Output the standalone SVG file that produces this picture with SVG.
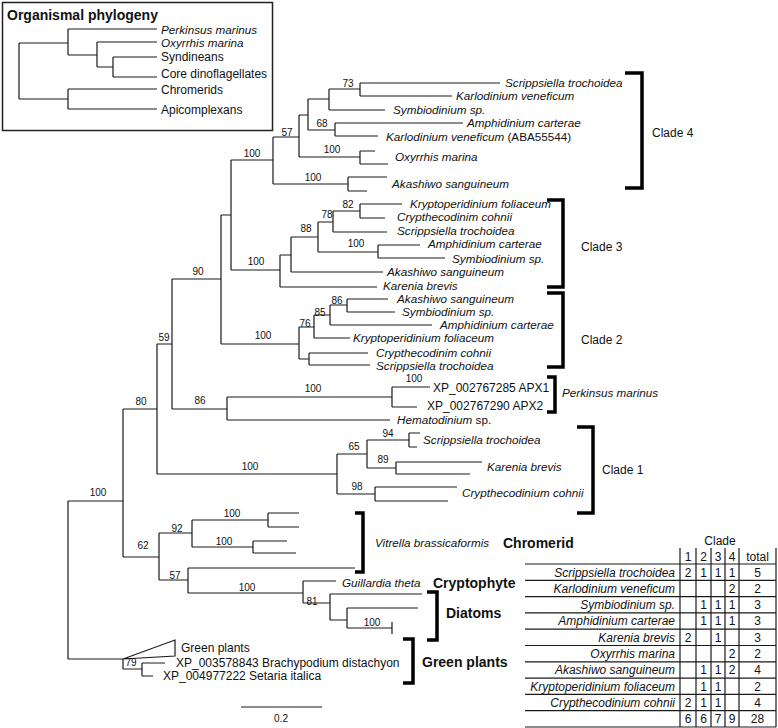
<svg xmlns="http://www.w3.org/2000/svg" width="778" height="728" viewBox="0 0 778 728">
<style>
.b{fill:none;stroke:#1a1a1a;stroke-width:1.2}
.k{fill:none;stroke:#000;stroke-width:3.5}
text{font-family:"Liberation Sans",Arial,sans-serif;fill:#111}
.t{font-size:11.7px;font-style:italic}
.n{font-size:12px}
.s{font-size:10px;text-anchor:middle}
.g{font-size:14px;font-weight:bold}
.c{font-size:12px;text-anchor:middle}
.r{font-size:12px;font-style:italic;text-anchor:end}
</style>
<rect width="778" height="728" fill="#fff"/>
<g id="inset">
<rect x="2.5" y="2.5" width="270" height="128" fill="none" stroke="#222" stroke-width="1.5"/>
<text class="g" x="7" y="20">Organismal phylogeny</text>
<path class="b" d="M19,43V99M19,43H68M68,29V55M68,29H157M68,55H97M97,42V67M97,42H157M97,67H113M113,57V77M113,57H157M113,77H157M19,99H68M68,89V109M68,89H157M68,109H157"/>
<text class="t" x="161" y="34">Perkinsus marinus</text>
<text class="t" x="161" y="47">Oxyrrhis marina</text>
<text class="n" x="161" y="61">Syndineans</text>
<text class="n" x="161" y="78">Core dinoflagellates</text>
<text class="n" x="161" y="94">Chromerids</text>
<text class="n" x="161" y="114">Apicomplexans</text>
</g>
<g id="connectors">
<path class="b" d="M68,501V659M68,501H123M123,409V557M123,409H157M157,344V474M157,344H172M172,279V409M172,279H221M221,215V344M221,215H231M231,160V270M231,160H273M273,137V184
M273,137H299M299,115V157M299,115H308M308,99V130M308,99H329M329,89V110M329,89H360M360,83V96M360,83H500M360,96H452M329,110H385M308,130H335M335,123V136M335,123H463M335,136H378M299,157H360M360,151V164M360,151H375M360,164H388M273,184H348M348,177V191M348,177H387M348,191H367
M231,270H280M280,255V287M280,255H291M291,237V272M291,237H318M318,222V252M318,222H333M333,211V232M333,211H360M360,204V218M360,204H402M360,218H385M333,232H387M318,252H378M378,245V258M378,245H420M378,258H445M291,272H383M280,287H377
M221,344H299M299,327V359M299,327H314M314,315V338M314,315H330M330,305V325M330,305H347M347,299V312M347,299H388M347,312H395M330,325H432M314,338H350M299,359H309M309,353V365M309,353H368M309,365H370
M172,409H227M227,397V420M227,397H392M392,387V407M392,387H430M392,407H417M227,420H390
M157,474H337M337,454V494M337,454H367M367,440V468M367,440H409M409,433V447M409,433H420M409,447H417M367,468H396M396,462V474M396,462H482M396,474H470M337,494H375M375,487V501M375,487H457M375,501H448
M123,557H159M159,533V580M159,533H192M192,520V547M192,520H268M268,513V527M268,513H299M268,527H299M192,547H253M253,541V553M253,541H287M253,553H296
M159,580H188M188,568V593M188,568H355M188,593H303M303,581V603M303,581H336M303,603H330M330,594V620M330,594H422M330,620H347M347,608V628M347,608H418M347,628H392M392,622V634
M68,659H123M123,659V669M123,669H142M142,663V676M142,663H165M142,676H153
M241,707H322"/>
<path class="b" d="M123,659L175,640V656Z"/>
<path class="k" d="M625,73H642V188H625M547,200H563V287H547M547,293H563V367H547M547,377H555V412H547M577,427H593V513H577M355,513H363V572H355M427,592H437V640H427M403,639H413V683H403"/>
</g>
<g id="support">
<text class="s" x="98" y="495.5">100</text>
<text class="s" x="141" y="404.5">80</text>
<text class="s" x="164" y="340.5">59</text>
<text class="s" x="198" y="274.5">90</text>
<text class="s" x="256" y="264.5">100</text>
<text class="s" x="263" y="338.5">100</text>
<text class="s" x="200" y="403.5">86</text>
<text class="s" x="250" y="469.5">100</text>
<text class="s" x="143" y="548.5">62</text>
<text class="s" x="177" y="531.5">92</text>
<text class="s" x="175" y="578.5">57</text>
<text class="s" x="232" y="516.5">100</text>
<text class="s" x="224" y="544.5">100</text>
<text class="s" x="247" y="590.5">100</text>
<text class="s" x="312" y="604.5">81</text>
<text class="s" x="372" y="625.5">100</text>
<text class="s" x="131" y="666">79</text>
<text class="s" x="348" y="86.5">73</text>
<text class="s" x="322" y="126.5">68</text>
<text class="s" x="287" y="135.5">57</text>
<text class="s" x="332" y="152.5">100</text>
<text class="s" x="313" y="180.5">100</text>
<text class="s" x="252" y="156.5">100</text>
<text class="s" x="348" y="207.5">82</text>
<text class="s" x="327" y="217.5">78</text>
<text class="s" x="306" y="231.5">88</text>
<text class="s" x="356" y="246.5">100</text>
<text class="s" x="337" y="303.5">86</text>
<text class="s" x="320" y="315.5">85</text>
<text class="s" x="305" y="326.5">76</text>
<text class="s" x="313" y="391.5">100</text>
<text class="s" x="414" y="381.5">100</text>
<text class="s" x="388" y="436.5">94</text>
<text class="s" x="354" y="449.5">65</text>
<text class="s" x="383" y="462.5">89</text>
<text class="s" x="357" y="489.5">98</text>
</g>
<g id="clade4">
<text class="t" x="505" y="87">Scrippsiella trochoidea</text>
<text class="t" x="456" y="100">Karlodinium veneficum</text>
<text class="t" x="393" y="114">Symbiodinium sp.</text>
<text class="t" x="467" y="127">Amphidinium carterae</text>
<text class="t" x="386" y="141">Karlodinium veneficum<tspan font-style="normal"> (ABA55544)</tspan></text>
<text class="t" x="395" y="161">Oxyrrhis marina</text>
<text class="t" x="392" y="188">Akashiwo sanguineum</text>
<text class="n" x="652" y="137">Clade 4</text>
</g>
<g id="clade3">
<text class="t" x="410" y="208">Kryptoperidinium foliaceum</text>
<text class="t" x="397" y="221">Crypthecodinim cohnii</text>
<text class="t" x="397" y="235">Scrippsiella trochoidea</text>
<text class="t" x="428" y="247.5">Amphidinium carterae</text>
<text class="t" x="452" y="263">Symbiodinium sp.</text>
<text class="t" x="387" y="276">Akashiwo sanguineum</text>
<text class="t" x="383" y="290">Karenia brevis</text>
<text class="n" x="581" y="251">Clade 3</text>
</g>
<g id="clade2">
<text class="t" x="397" y="303">Akashiwo sanguineum</text>
<text class="t" x="402" y="316">Symbiodinium sp.</text>
<text class="t" x="440" y="329">Amphidinium carterae</text>
<text class="t" x="353" y="342">Kryptoperidinium foliaceum</text>
<text class="t" x="376" y="356.5">Crypthecodinim cohnii</text>
<text class="t" x="376" y="369.5">Scrippsiella trochoidea</text>
<text class="n" x="581" y="344">Clade 2</text>
</g>
<g id="perkinsus">
<text class="n" x="433" y="392">XP_002767285 APX1</text>
<text class="n" x="427" y="410">XP_002767290 APX2</text>
<text class="t" x="397" y="424">Hematodinium<tspan font-style="normal"> sp.</tspan></text>
<text class="t" x="562" y="397">Perkinsus marinus</text>
</g>
<g id="clade1">
<text class="t" x="423" y="444">Scrippsiella trochoidea</text>
<text class="t" x="487" y="471">Karenia brevis</text>
<text class="t" x="462" y="497">Crypthecodinium cohnii</text>
<text class="n" x="602" y="474">Clade 1</text>
</g>
<g id="chromerid">
<text class="t" x="375" y="547">Vitrella brassicaformis</text>
<text class="g" x="503" y="548">Chromerid</text>
</g>
<g id="cryptophyte">
<text class="t" x="342" y="587">Guillardia theta</text>
<text class="g" x="433" y="588">Cryptophyte</text>
</g>
<g id="diatoms">
<text class="g" x="446" y="618">Diatoms</text>
</g>
<g id="greenplants">
<text class="n" x="181" y="652">Green plants</text>
<text class="n" x="176" y="667">XP_003578843 Brachypodium distachyon</text>
<text class="n" x="163" y="680">XP_004977222 Setaria italica</text>
<text class="g" x="422" y="667">Green plants</text>
</g>
<g id="scale">
<text class="s" x="281" y="722">0.2</text>
</g>
<g id="table">
<path class="b" d="M525,564H776M525,580.3H776M525,596.6H776M525,612.9H776M525,629.2H776M525,645.5H776M525,661.8H776M525,678.1H776M525,694.4H776M525,710.7H776M525,727H776M680,548V727M696,548V727M711,548V727M725,548V727M739,548V727M776,548V727"/>
<text class="c" x="720" y="545">Clade</text>
<text class="c" x="688" y="561">1</text><text class="c" x="703.5" y="561">2</text><text class="c" x="718" y="561">3</text><text class="c" x="732" y="561">4</text><text class="c" x="757.5" y="561">total</text>
<text class="r" x="675" y="576.5">Scrippsiella trochoidea</text>
<text class="r" x="675" y="592.8">Karlodinium veneficum</text>
<text class="r" x="675" y="609.1">Symbiodinium sp.</text>
<text class="r" x="675" y="625.4">Amphidinium carterae</text>
<text class="r" x="675" y="641.7">Karenia brevis</text>
<text class="r" x="675" y="658">Oxyrrhis marina</text>
<text class="r" x="675" y="674.3">Akashiwo sanguineum</text>
<text class="r" x="675" y="690.6">Kryptoperidinium foliaceum</text>
<text class="r" x="675" y="706.9">Crypthecodinium cohnii</text>
<text class="c" x="688" y="576.5">2</text><text class="c" x="703.5" y="576.5">1</text><text class="c" x="718" y="576.5">1</text><text class="c" x="732" y="576.5">1</text><text class="c" x="757.5" y="576.5">5</text>
<text class="c" x="732" y="592.8">2</text><text class="c" x="757.5" y="592.8">2</text>
<text class="c" x="703.5" y="609.1">1</text><text class="c" x="718" y="609.1">1</text><text class="c" x="732" y="609.1">1</text><text class="c" x="757.5" y="609.1">3</text>
<text class="c" x="703.5" y="625.4">1</text><text class="c" x="718" y="625.4">1</text><text class="c" x="732" y="625.4">1</text><text class="c" x="757.5" y="625.4">3</text>
<text class="c" x="688" y="641.7">2</text><text class="c" x="718" y="641.7">1</text><text class="c" x="757.5" y="641.7">3</text>
<text class="c" x="732" y="658">2</text><text class="c" x="757.5" y="658">2</text>
<text class="c" x="703.5" y="674.3">1</text><text class="c" x="718" y="674.3">1</text><text class="c" x="732" y="674.3">2</text><text class="c" x="757.5" y="674.3">4</text>
<text class="c" x="703.5" y="690.6">1</text><text class="c" x="718" y="690.6">1</text><text class="c" x="757.5" y="690.6">2</text>
<text class="c" x="688" y="706.9">2</text><text class="c" x="703.5" y="706.9">1</text><text class="c" x="718" y="706.9">1</text><text class="c" x="757.5" y="706.9">4</text>
<text class="c" x="688" y="723">6</text><text class="c" x="703.5" y="723">6</text><text class="c" x="718" y="723">7</text><text class="c" x="732" y="723">9</text><text class="c" x="757.5" y="723">28</text>
</g>
</svg>
